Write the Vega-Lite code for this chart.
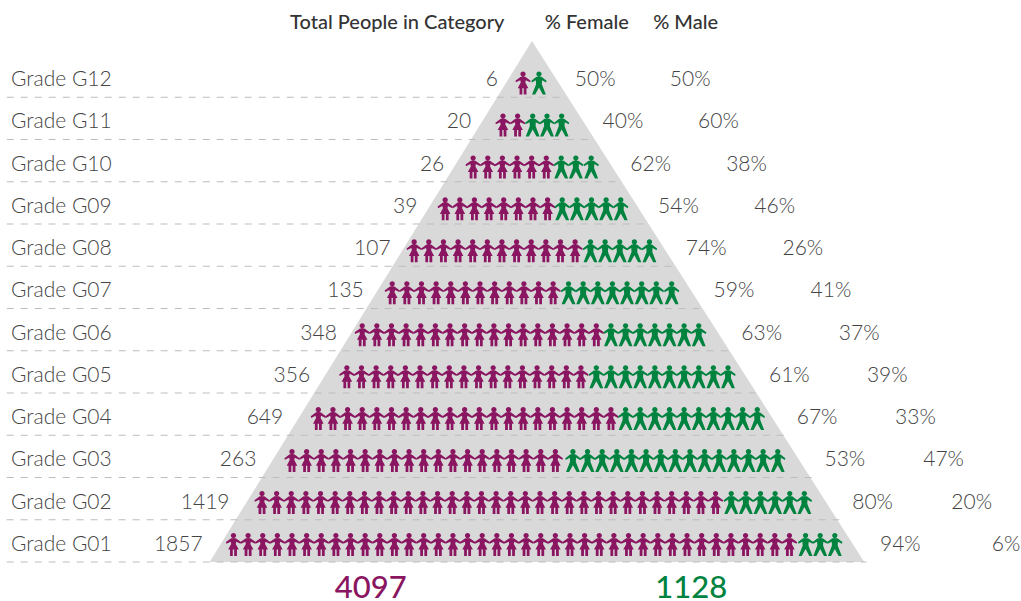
{"$schema":"https://vega.github.io/schema/vega-lite/v6.json","width":1021,"height":601,"padding":0,"autosize":{"type":"fit","contains":"padding"},"background":"white","config":{"view":{"stroke":null}},
"datasets":{
"triangle":[{"depth":0,"left":0,"right":0},{"depth":1,"left":-22.03,"right":22.71}],
"rows":[
{"grade":"G12","label":"Grade G12","level":0,"total":6,"female":0.5,"male":0.5},
{"grade":"G11","label":"Grade G11","level":1,"total":20,"female":0.4,"male":0.6},
{"grade":"G10","label":"Grade G10","level":2,"total":26,"female":0.62,"male":0.38},
{"grade":"G09","label":"Grade G09","level":3,"total":39,"female":0.54,"male":0.46},
{"grade":"G08","label":"Grade G08","level":4,"total":107,"female":0.74,"male":0.26},
{"grade":"G07","label":"Grade G07","level":5,"total":135,"female":0.59,"male":0.41},
{"grade":"G06","label":"Grade G06","level":6,"total":348,"female":0.63,"male":0.37},
{"grade":"G05","label":"Grade G05","level":7,"total":356,"female":0.61,"male":0.39},
{"grade":"G04","label":"Grade G04","level":8,"total":649,"female":0.67,"male":0.33},
{"grade":"G03","label":"Grade G03","level":9,"total":263,"female":0.53,"male":0.47},
{"grade":"G02","label":"Grade G02","level":10,"total":1419,"female":0.8,"male":0.2},
{"grade":"G01","label":"Grade G01","level":11,"total":1857,"female":0.94,"male":0.06}],
"heads":[{"grade":"Head","label":"Total People in Category","seat":-9.21},{"grade":"Head","label":"% Female","seat":3.75},{"grade":"Head","label":"% Male","seat":10.5}],
"totals":[{"grade":"Foot","sex":"F","count":4097,"seat":-11.02},{"grade":"Foot","sex":"M","count":1128,"seat":10.88}],
"icons":[
{"grade":"G12","sex":"F","seat":-0.61},{"grade":"G12","sex":"M","seat":0.48},
{"grade":"G11","sex":"F","seat":-1.98},{"grade":"G11","sex":"F","seat":-0.98},{"grade":"G11","sex":"M","seat":0.05},{"grade":"G11","sex":"M","seat":1.03},{"grade":"G11","sex":"M","seat":2.03},
{"grade":"G10","sex":"F","seat":-4.02},{"grade":"G10","sex":"F","seat":-3.02},{"grade":"G10","sex":"F","seat":-2.02},{"grade":"G10","sex":"F","seat":-1.02},{"grade":"G10","sex":"F","seat":-0.02},{"grade":"G10","sex":"F","seat":0.98},{"grade":"G10","sex":"M","seat":2},{"grade":"G10","sex":"M","seat":3},{"grade":"G10","sex":"M","seat":4.05},
{"grade":"G09","sex":"F","seat":-5.93},{"grade":"G09","sex":"F","seat":-4.93},{"grade":"G09","sex":"F","seat":-3.93},{"grade":"G09","sex":"F","seat":-2.93},{"grade":"G09","sex":"F","seat":-1.93},{"grade":"G09","sex":"F","seat":-0.93},{"grade":"G09","sex":"F","seat":0.07},{"grade":"G09","sex":"F","seat":1.07},{"grade":"G09","sex":"M","seat":2.07},{"grade":"G09","sex":"M","seat":3.07},{"grade":"G09","sex":"M","seat":4.07},{"grade":"G09","sex":"M","seat":5.07},{"grade":"G09","sex":"M","seat":6.07},
{"grade":"G08","sex":"F","seat":-8.05},{"grade":"G08","sex":"F","seat":-7.05},{"grade":"G08","sex":"F","seat":-6.05},{"grade":"G08","sex":"F","seat":-5.05},{"grade":"G08","sex":"F","seat":-4.05},{"grade":"G08","sex":"F","seat":-3.05},{"grade":"G08","sex":"F","seat":-2.05},{"grade":"G08","sex":"F","seat":-1.05},{"grade":"G08","sex":"F","seat":-0.05},{"grade":"G08","sex":"F","seat":0.95},{"grade":"G08","sex":"F","seat":1.95},{"grade":"G08","sex":"F","seat":2.95},{"grade":"G08","sex":"M","seat":4},{"grade":"G08","sex":"M","seat":5},{"grade":"G08","sex":"M","seat":6},{"grade":"G08","sex":"M","seat":7},{"grade":"G08","sex":"M","seat":8.03},
{"grade":"G07","sex":"F","seat":-9.55},{"grade":"G07","sex":"F","seat":-8.55},{"grade":"G07","sex":"F","seat":-7.55},{"grade":"G07","sex":"F","seat":-6.55},{"grade":"G07","sex":"F","seat":-5.55},{"grade":"G07","sex":"F","seat":-4.55},{"grade":"G07","sex":"F","seat":-3.55},{"grade":"G07","sex":"F","seat":-2.55},{"grade":"G07","sex":"F","seat":-1.55},{"grade":"G07","sex":"F","seat":-0.55},{"grade":"G07","sex":"F","seat":0.45},{"grade":"G07","sex":"F","seat":1.45},{"grade":"G07","sex":"M","seat":2.5},{"grade":"G07","sex":"M","seat":3.5},{"grade":"G07","sex":"M","seat":4.5},{"grade":"G07","sex":"M","seat":5.5},{"grade":"G07","sex":"M","seat":6.5},{"grade":"G07","sex":"M","seat":7.5},{"grade":"G07","sex":"M","seat":8.5},{"grade":"G07","sex":"M","seat":9.55},
{"grade":"G06","sex":"F","seat":-11.6},{"grade":"G06","sex":"F","seat":-10.6},{"grade":"G06","sex":"F","seat":-9.6},{"grade":"G06","sex":"F","seat":-8.6},{"grade":"G06","sex":"F","seat":-7.6},{"grade":"G06","sex":"F","seat":-6.6},{"grade":"G06","sex":"F","seat":-5.6},{"grade":"G06","sex":"F","seat":-4.6},{"grade":"G06","sex":"F","seat":-3.6},{"grade":"G06","sex":"F","seat":-2.6},{"grade":"G06","sex":"F","seat":-1.6},{"grade":"G06","sex":"F","seat":-0.6},{"grade":"G06","sex":"F","seat":0.4},{"grade":"G06","sex":"F","seat":1.4},{"grade":"G06","sex":"F","seat":2.4},{"grade":"G06","sex":"F","seat":3.4},{"grade":"G06","sex":"F","seat":4.4},{"grade":"G06","sex":"M","seat":5.4},{"grade":"G06","sex":"M","seat":6.4},{"grade":"G06","sex":"M","seat":7.4},{"grade":"G06","sex":"M","seat":8.4},{"grade":"G06","sex":"M","seat":9.4},{"grade":"G06","sex":"M","seat":10.4},{"grade":"G06","sex":"M","seat":11.4},
{"grade":"G05","sex":"F","seat":-12.65},{"grade":"G05","sex":"F","seat":-11.65},{"grade":"G05","sex":"F","seat":-10.65},{"grade":"G05","sex":"F","seat":-9.65},{"grade":"G05","sex":"F","seat":-8.65},{"grade":"G05","sex":"F","seat":-7.65},{"grade":"G05","sex":"F","seat":-6.65},{"grade":"G05","sex":"F","seat":-5.65},{"grade":"G05","sex":"F","seat":-4.65},{"grade":"G05","sex":"F","seat":-3.65},{"grade":"G05","sex":"F","seat":-2.65},{"grade":"G05","sex":"F","seat":-1.65},{"grade":"G05","sex":"F","seat":-0.65},{"grade":"G05","sex":"F","seat":0.35},{"grade":"G05","sex":"F","seat":1.35},{"grade":"G05","sex":"F","seat":2.35},{"grade":"G05","sex":"F","seat":3.35},{"grade":"G05","sex":"M","seat":4.4},{"grade":"G05","sex":"M","seat":5.4},{"grade":"G05","sex":"M","seat":6.4},{"grade":"G05","sex":"M","seat":7.4},{"grade":"G05","sex":"M","seat":8.4},{"grade":"G05","sex":"M","seat":9.4},{"grade":"G05","sex":"M","seat":10.4},{"grade":"G05","sex":"M","seat":11.4},{"grade":"G05","sex":"M","seat":12.4},{"grade":"G05","sex":"M","seat":13.4},
{"grade":"G04","sex":"F","seat":-14.6},{"grade":"G04","sex":"F","seat":-13.6},{"grade":"G04","sex":"F","seat":-12.6},{"grade":"G04","sex":"F","seat":-11.6},{"grade":"G04","sex":"F","seat":-10.6},{"grade":"G04","sex":"F","seat":-9.6},{"grade":"G04","sex":"F","seat":-8.6},{"grade":"G04","sex":"F","seat":-7.6},{"grade":"G04","sex":"F","seat":-6.6},{"grade":"G04","sex":"F","seat":-5.6},{"grade":"G04","sex":"F","seat":-4.6},{"grade":"G04","sex":"F","seat":-3.6},{"grade":"G04","sex":"F","seat":-2.6},{"grade":"G04","sex":"F","seat":-1.6},{"grade":"G04","sex":"F","seat":-0.6},{"grade":"G04","sex":"F","seat":0.4},{"grade":"G04","sex":"F","seat":1.4},{"grade":"G04","sex":"F","seat":2.4},{"grade":"G04","sex":"F","seat":3.4},{"grade":"G04","sex":"F","seat":4.4},{"grade":"G04","sex":"F","seat":5.4},{"grade":"G04","sex":"M","seat":6.4},{"grade":"G04","sex":"M","seat":7.4},{"grade":"G04","sex":"M","seat":8.4},{"grade":"G04","sex":"M","seat":9.4},{"grade":"G04","sex":"M","seat":10.4},{"grade":"G04","sex":"M","seat":11.4},{"grade":"G04","sex":"M","seat":12.4},{"grade":"G04","sex":"M","seat":13.4},{"grade":"G04","sex":"M","seat":14.4},{"grade":"G04","sex":"M","seat":15.4},
{"grade":"G03","sex":"F","seat":-16.4},{"grade":"G03","sex":"F","seat":-15.4},{"grade":"G03","sex":"F","seat":-14.4},{"grade":"G03","sex":"F","seat":-13.4},{"grade":"G03","sex":"F","seat":-12.4},{"grade":"G03","sex":"F","seat":-11.4},{"grade":"G03","sex":"F","seat":-10.4},{"grade":"G03","sex":"F","seat":-9.4},{"grade":"G03","sex":"F","seat":-8.4},{"grade":"G03","sex":"F","seat":-7.4},{"grade":"G03","sex":"F","seat":-6.4},{"grade":"G03","sex":"F","seat":-5.4},{"grade":"G03","sex":"F","seat":-4.4},{"grade":"G03","sex":"F","seat":-3.4},{"grade":"G03","sex":"F","seat":-2.4},{"grade":"G03","sex":"F","seat":-1.4},{"grade":"G03","sex":"F","seat":-0.4},{"grade":"G03","sex":"F","seat":0.6},{"grade":"G03","sex":"F","seat":1.6},{"grade":"G03","sex":"M","seat":2.8},{"grade":"G03","sex":"M","seat":3.8},{"grade":"G03","sex":"M","seat":4.8},{"grade":"G03","sex":"M","seat":5.8},{"grade":"G03","sex":"M","seat":6.8},{"grade":"G03","sex":"M","seat":7.8},{"grade":"G03","sex":"M","seat":8.8},{"grade":"G03","sex":"M","seat":9.8},{"grade":"G03","sex":"M","seat":10.8},{"grade":"G03","sex":"M","seat":11.8},{"grade":"G03","sex":"M","seat":12.8},{"grade":"G03","sex":"M","seat":13.8},{"grade":"G03","sex":"M","seat":14.8},{"grade":"G03","sex":"M","seat":15.8},{"grade":"G03","sex":"M","seat":16.8},
{"grade":"G02","sex":"F","seat":-18.45},{"grade":"G02","sex":"F","seat":-17.45},{"grade":"G02","sex":"F","seat":-16.45},{"grade":"G02","sex":"F","seat":-15.45},{"grade":"G02","sex":"F","seat":-14.45},{"grade":"G02","sex":"F","seat":-13.45},{"grade":"G02","sex":"F","seat":-12.45},{"grade":"G02","sex":"F","seat":-11.45},{"grade":"G02","sex":"F","seat":-10.45},{"grade":"G02","sex":"F","seat":-9.45},{"grade":"G02","sex":"F","seat":-8.45},{"grade":"G02","sex":"F","seat":-7.45},{"grade":"G02","sex":"F","seat":-6.45},{"grade":"G02","sex":"F","seat":-5.45},{"grade":"G02","sex":"F","seat":-4.45},{"grade":"G02","sex":"F","seat":-3.45},{"grade":"G02","sex":"F","seat":-2.45},{"grade":"G02","sex":"F","seat":-1.45},{"grade":"G02","sex":"F","seat":-0.45},{"grade":"G02","sex":"F","seat":0.55},{"grade":"G02","sex":"F","seat":1.55},{"grade":"G02","sex":"F","seat":2.55},{"grade":"G02","sex":"F","seat":3.55},{"grade":"G02","sex":"F","seat":4.55},{"grade":"G02","sex":"F","seat":5.55},{"grade":"G02","sex":"F","seat":6.55},{"grade":"G02","sex":"F","seat":7.55},{"grade":"G02","sex":"F","seat":8.55},{"grade":"G02","sex":"F","seat":9.55},{"grade":"G02","sex":"F","seat":10.55},{"grade":"G02","sex":"F","seat":11.55},{"grade":"G02","sex":"F","seat":12.55},{"grade":"G02","sex":"M","seat":13.62},{"grade":"G02","sex":"M","seat":14.62},{"grade":"G02","sex":"M","seat":15.62},{"grade":"G02","sex":"M","seat":16.62},{"grade":"G02","sex":"M","seat":17.62},{"grade":"G02","sex":"M","seat":18.62},
{"grade":"G01","sex":"F","seat":-20.4},{"grade":"G01","sex":"F","seat":-19.4},{"grade":"G01","sex":"F","seat":-18.4},{"grade":"G01","sex":"F","seat":-17.4},{"grade":"G01","sex":"F","seat":-16.4},{"grade":"G01","sex":"F","seat":-15.4},{"grade":"G01","sex":"F","seat":-14.4},{"grade":"G01","sex":"F","seat":-13.4},{"grade":"G01","sex":"F","seat":-12.4},{"grade":"G01","sex":"F","seat":-11.4},{"grade":"G01","sex":"F","seat":-10.4},{"grade":"G01","sex":"F","seat":-9.4},{"grade":"G01","sex":"F","seat":-8.4},{"grade":"G01","sex":"F","seat":-7.4},{"grade":"G01","sex":"F","seat":-6.4},{"grade":"G01","sex":"F","seat":-5.4},{"grade":"G01","sex":"F","seat":-4.4},{"grade":"G01","sex":"F","seat":-3.4},{"grade":"G01","sex":"F","seat":-2.4},{"grade":"G01","sex":"F","seat":-1.4},{"grade":"G01","sex":"F","seat":-0.4},{"grade":"G01","sex":"F","seat":0.6},{"grade":"G01","sex":"F","seat":1.6},{"grade":"G01","sex":"F","seat":2.6},{"grade":"G01","sex":"F","seat":3.6},{"grade":"G01","sex":"F","seat":4.6},{"grade":"G01","sex":"F","seat":5.6},{"grade":"G01","sex":"F","seat":6.6},{"grade":"G01","sex":"F","seat":7.6},{"grade":"G01","sex":"F","seat":8.6},{"grade":"G01","sex":"F","seat":9.6},{"grade":"G01","sex":"F","seat":10.6},{"grade":"G01","sex":"F","seat":11.6},{"grade":"G01","sex":"F","seat":12.6},{"grade":"G01","sex":"F","seat":13.6},{"grade":"G01","sex":"F","seat":14.6},{"grade":"G01","sex":"F","seat":15.6},{"grade":"G01","sex":"F","seat":16.6},{"grade":"G01","sex":"F","seat":17.6},{"grade":"G01","sex":"M","seat":18.7},{"grade":"G01","sex":"M","seat":19.7},{"grade":"G01","sex":"M","seat":20.7}
]},
"resolve":{"scale":{"y":"independent"}},
"encoding":{"y":{"field":"grade","type":"nominal","axis":null,"scale":{"type":"band","paddingInner":0,"paddingOuter":0,"range":[12.75,604.25],"domain":["Head","G12","G11","G10","G09","G08","G07","G06","G05","G04","G03","G02","G01","Foot"]}}},
"layer":[
{"data":{"name":"triangle"},"mark":{"type":"area","orient":"horizontal","color":"#d9d9d9"},"encoding":{"y":{"field":"depth","type":"quantitative","axis":null,"scale":{"domain":[0,1],"range":[41,562],"nice":false,"zero":false}},"x":{"field":"left","type":"quantitative","axis":null,"scale":{"domain":[-36.357,33.288],"nice":false,"zero":false}},"x2":{"field":"right"}}},
{"data":{"name":"rows"},"transform":[{"calculate":"2.4+1.86*datum.level","as":"ruleEnd"},{"calculate":"-35.9","as":"ruleStart"}],"mark":{"type":"rule","color":"#bdbdbd","strokeWidth":1,"strokeDash":[7,7]},"encoding":{"y":{"field":"grade","type":"nominal","axis":null,"bandPosition":1,"scale":{"type":"band","paddingInner":0,"paddingOuter":0,"range":[12.75,604.25],"domain":["Head","G12","G11","G10","G09","G08","G07","G06","G05","G04","G03","G02","G01","Foot"]}},"x":{"field":"ruleStart","type":"quantitative"},"x2":{"field":"ruleEnd"}}},
{"data":{"name":"icons"},"transform":[{"filter":"datum.sex==='F'"}],"mark":{"type":"point","filled":true,"opacity":1,"strokeWidth":0,"size":529,"color":"#8a1560","shape":"M-.23-.77a.23.23 0 1 0 .46 0a.23.23 0 1 0-.46 0ZM-.2-.54L.2-.54L.66-.2L.62-.06L.24-.24L.2-.04L.46.45L.3.45L.3 1L.06 1L.06.45L-.06.45L-.06 1L-.3 1L-.3.45L-.46.45L-.2-.04L-.24-.24L-.62-.06L-.66-.2Z"},"encoding":{"x":{"field":"seat","type":"quantitative"},"y":{"field":"grade","type":"nominal","axis":null,"scale":{"type":"band","paddingInner":0,"paddingOuter":0,"range":[20.05,607.35],"domain":["Head","G12","G11","G10","G09","G08","G07","G06","G05","G04","G03","G02","G01","Foot"]}}}},
{"data":{"name":"icons"},"transform":[{"filter":"datum.sex==='M'"}],"mark":{"type":"point","filled":true,"opacity":1,"strokeWidth":0,"size":529,"color":"#00833f","shape":"M-.23-.77a.23.23 0 1 0 .46 0a.23.23 0 1 0-.46 0ZM-.22-.54L.22-.54L.66-.2L.62-.05L.27-.24L.25.1L.6 1L.33 1L0 .4L-.33 1L-.6 1L-.25.1L-.27-.24L-.62-.05L-.66-.2Z"},"encoding":{"x":{"field":"seat","type":"quantitative"},"y":{"field":"grade","type":"nominal","axis":null,"scale":{"type":"band","paddingInner":0,"paddingOuter":0,"range":[20.05,607.35],"domain":["Head","G12","G11","G10","G09","G08","G07","G06","G05","G04","G03","G02","G01","Foot"]}}}},
{"data":{"name":"rows"},"transform":[{"calculate":"-35.6","as":"at"}],"mark":{"type":"text","align":"left","baseline":"middle","dy":4,"font":"Lato","fontSize":21,"fontWeight":300,"color":"#444444"},"encoding":{"x":{"field":"at","type":"quantitative"},"text":{"field":"label"}}},
{"data":{"name":"rows"},"transform":[{"calculate":"-2.32-1.835*datum.level","as":"at"}],"mark":{"type":"text","align":"right","baseline":"middle","dy":4,"font":"Lato","fontSize":21,"fontWeight":300,"color":"#444444"},"encoding":{"x":{"field":"at","type":"quantitative"},"text":{"field":"total","type":"quantitative","format":"d"}}},
{"data":{"name":"rows"},"transform":[{"calculate":"2.93+1.896*datum.level","as":"at"}],"mark":{"type":"text","align":"left","baseline":"middle","dy":4,"font":"Lato","fontSize":21,"fontWeight":300,"color":"#444444"},"encoding":{"x":{"field":"at","type":"quantitative"},"text":{"field":"female","type":"quantitative","format":".0%"}}},
{"data":{"name":"rows"},"transform":[{"calculate":"12.21+1.924*datum.level","as":"at"}],"mark":{"type":"text","align":"right","baseline":"middle","dy":4,"font":"Lato","fontSize":21,"fontWeight":300,"color":"#444444"},"encoding":{"x":{"field":"at","type":"quantitative"},"text":{"field":"male","type":"quantitative","format":".0%"}}},
{"data":{"name":"heads"},"mark":{"type":"text","align":"center","baseline":"middle","dy":-11,"font":"Lato","fontSize":20,"fontWeight":500,"color":"#333333"},"encoding":{"x":{"field":"seat","type":"quantitative"},"text":{"field":"label"}}},
{"data":{"name":"totals"},"transform":[{"filter":"datum.sex==='F'"}],"mark":{"type":"text","align":"center","baseline":"middle","dy":5.5,"font":"Lato","fontSize":31,"fontWeight":500,"color":"#8a1560"},"encoding":{"x":{"field":"seat","type":"quantitative"},"text":{"field":"count","type":"quantitative","format":"d"}}},
{"data":{"name":"totals"},"transform":[{"filter":"datum.sex==='M'"}],"mark":{"type":"text","align":"center","baseline":"middle","dy":5.5,"font":"Lato","fontSize":31,"fontWeight":500,"color":"#00833f"},"encoding":{"x":{"field":"seat","type":"quantitative"},"text":{"field":"count","type":"quantitative","format":"d"}}}
]}
